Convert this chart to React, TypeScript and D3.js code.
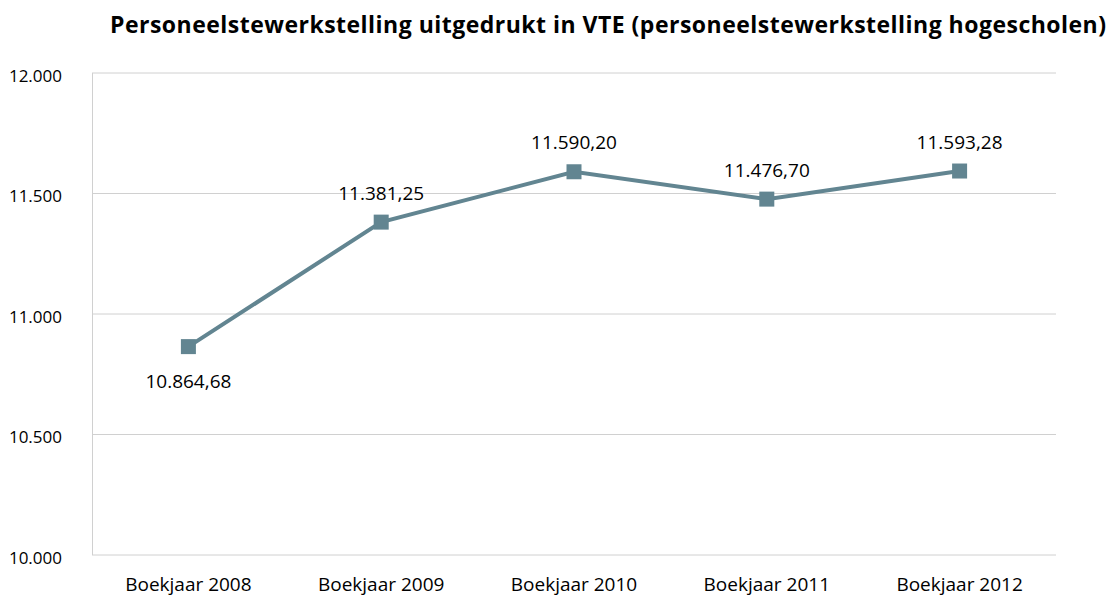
import React from "react";
import * as d3 from "d3";

const categories = ["Boekjaar 2008", "Boekjaar 2009", "Boekjaar 2010", "Boekjaar 2011", "Boekjaar 2012"];
const values = [10864.68, 11381.25, 11590.2, 11476.7, 11593.28];
const labels = ["10.864,68", "11.381,25", "11.590,20", "11.476,70", "11.593,28"];
const yTicks = [10000, 10500, 11000, 11500, 12000];
const yTickLabels = ["10.000", "10.500", "11.000", "11.500", "12.000"];
const title = "Personeelstewerkstelling uitgedrukt in VTE (personeelstewerkstelling hogescholen)";

const W = 1112, H = 598;
const left = 92, right = 1056, top = 73, bottom = 555;
const color = "#628591";
const font = "'Open Sans', 'Noto Sans', sans-serif";

export default function App() {
  const x = d3.scaleBand().domain(categories).range([left, right]);
  const y = d3.scaleLinear().domain([10000, 12000]).range([bottom, top]);
  const cx = (c: string) => (x(c) as number) + x.bandwidth() / 2;
  const line = d3.line<number>().x((_, i) => cx(categories[i])).y((d) => y(d));
  return (
    <svg width={W} height={H} style={{ position: "absolute", left: 0, top: 0, background: "#fff" }}>
      <text x={110} y={33} textAnchor="start" textLength={996} lengthAdjust="spacing" fontFamily={font} fontWeight="bold" fontSize={23} fill="#000">{title}</text>
      {yTicks.map((t, i) => (
        <g key={t}>
          <line x1={left} x2={right} y1={y(t)} y2={y(t)} stroke="#d0d0d0" strokeWidth={1} />
          <text x={62} y={y(t) + 8.5} textAnchor="end" fontFamily={font} fontSize={17} fill="#000">{yTickLabels[i]}</text>
        </g>
      ))}
      <line x1={left + 0.5} x2={left + 0.5} y1={top} y2={bottom} stroke="#d0d0d0" strokeWidth={1} />
      {categories.map((c) => (
        <text key={c} x={cx(c)} y={591} textAnchor="middle" fontFamily={font} fontSize={19} fill="#000">{c}</text>
      ))}
      <path d={line(values) || ""} fill="none" stroke={color} strokeWidth={4} />
      {values.map((v, i) => (
        <rect key={i} x={cx(categories[i]) - 7.5} y={y(v) - 7.5} width={15} height={15} fill={color} />
      ))}
      {values.map((v, i) => (
        <text key={"l" + i} x={cx(categories[i])} y={i === 0 ? y(v) + 41 : y(v) - 22.5} textAnchor="middle" fontFamily={font} fontSize={19} fill="#000">{labels[i]}</text>
      ))}
    </svg>
  );
}
